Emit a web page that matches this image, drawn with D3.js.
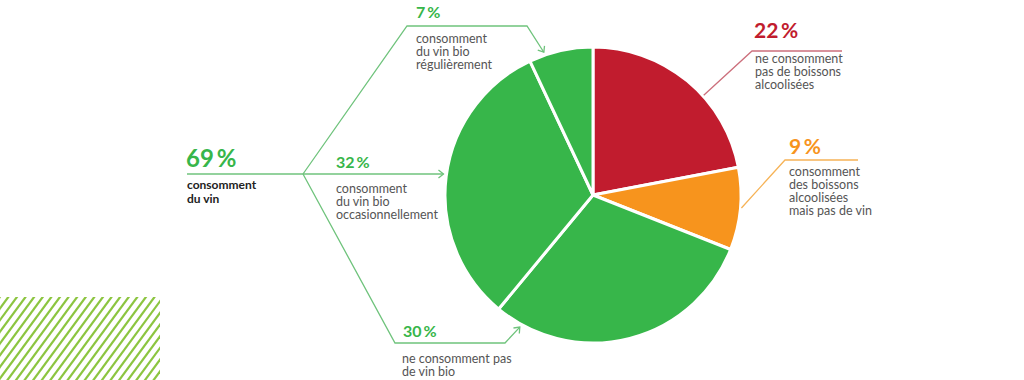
<!DOCTYPE html>
<html>
<head>
<meta charset="utf-8">
<style>
  body { margin: 0; background: #fff; }
  text { font-family: Lato, "Open Sans", sans-serif; }
</style>
</head>
<body>
<script src="https://cdn.jsdelivr.net/npm/d3@7"></script>
<script>
// data
var sliceValues = [22, 9, 30, 32, 7];
var sliceGroups = ['none', 'alcohol', 'wine', 'wine', 'wine'];
var sliceTexts = [
    ['ne consomment', 'pas de boissons', 'alcoolisées'],
    ['consomment', 'des boissons', 'alcoolisées', 'mais pas de vin'],
    ['ne consomment pas', 'de vin bio'],
    ['consomment', 'du vin bio', 'occasionnellement'],
    ['consomment', 'du vin bio', 'régulièrement']
];
var wineTotal = 69;
var wineTexts = ['consomment', 'du vin'];

var svgWidth = 1024, svgHeight = 380;
var svg = d3.select('body').append('svg')
    .attr('width', svgWidth).attr('height', svgHeight);

var cx = 593, cy = 195, radius = 148;

var fillColor = d3.scaleOrdinal()
    .domain(['none', 'alcohol', 'wine'])
    .range(['#c11c2e', '#f7941d', '#37b64a']);
var lineColor = d3.scaleOrdinal()
    .domain(['none', 'alcohol', 'wine'])
    .range(['#cc6f7c', '#f6b357', '#6fc37c']);

// hatched corner bottom left
var hatch = svg.append('g');
svg.append('clipPath').attr('id', 'hatchClip')
    .append('rect').attr('x', 0).attr('y', 297).attr('width', 160).attr('height', 83);
hatch.attr('clip-path', 'url(#hatchClip)')
    .selectAll('line')
    .data(d3.range(-80, 170, 8.6))
    .enter().append('line')
    .attr('x1', function (d) { return d; })
    .attr('y1', 382)
    .attr('x2', function (d) { return d + 64; })
    .attr('y2', 295)
    .attr('stroke', '#8cc540')
    .attr('stroke-width', 2.2);

// pie
var pie = d3.pie().sort(null).value(function (d) { return d; });
var arcs = pie(sliceValues);
var arc = d3.arc().innerRadius(0).outerRadius(radius);

var pieGroup = svg.append('g')
    .attr('transform', 'translate(' + cx + ',' + cy + ')');
pieGroup.selectAll('path')
    .data(arcs)
    .enter().append('path')
    .attr('d', arc)
    .attr('fill', function (d, i) { return fillColor(sliceGroups[i]); })
    .attr('stroke', '#fff')
    .attr('stroke-width', 3)
    .attr('stroke-linejoin', 'round');

// arrow markers
var defs = svg.append('defs');
['wine'].forEach(function (g) {
    defs.append('marker')
        .attr('id', 'arrow-' + g)
        .attr('viewBox', '-6 -5 8 10')
        .attr('refX', 0).attr('refY', 0)
        .attr('markerWidth', 8).attr('markerHeight', 10)
        .attr('markerUnits', 'userSpaceOnUse')
        .attr('orient', 'auto')
        .append('path')
        .attr('d', 'M-5,-4L0,0L-5,4')
        .attr('fill', 'none')
        .attr('stroke', lineColor(g))
        .attr('stroke-width', 1.3);
});

function edgePoint(deg, r) {
    var a = deg * Math.PI / 180;
    return [cx + r * Math.sin(a), cy - r * Math.cos(a)];
}

// callout layout
var callouts = [
    { tipDeg: 48, tipR: 149, path: [[842, 51], [752, 51]], px: 754, py: 38, size: 21, tx: 755, ty: 63, arrow: false },
    { tipDeg: 95, tipR: 149, path: [[858, 160], [785, 160]], px: 789, py: 154, size: 21, tx: 789, ty: 176, arrow: false },
    { tipDeg: 209, tipR: 151, path: [[303, 174], [395, 343], [505, 343]], px: 403, py: 337, size: 16, tx: 402, ty: 363, arrow: true },
    { tipDeg: 278, tipR: 151, path: [[187, 174]], px: 336, py: 168, size: 16, tx: 336, ty: 193, arrow: true },
    { tipDeg: 341, tipR: 151, path: [[303, 174], [407, 26], [527, 26]], px: 416, py: 18, size: 16, tx: 416, ty: 43, arrow: true }
];

var lineGen = d3.line();
callouts.forEach(function (c, i) {
    var grp = sliceGroups[i];
    var tip = edgePoint(arcs[i] ? c.tipDeg : 0, c.tipR);
    if (i === 3) tip[1] = 174;
    var pts = c.path.concat([tip]);
    var p = svg.append('path')
        .attr('d', lineGen(pts))
        .attr('fill', 'none')
        .attr('stroke', lineColor(grp))
        .attr('stroke-width', 1.3);
    if (c.arrow) p.attr('marker-end', 'url(#arrow-' + grp + ')');

    svg.append('text')
        .attr('x', c.px).attr('y', c.py)
        .attr('fill', fillColor(grp))
        .attr('font-size', c.size)
        .attr('font-weight', 700)
        .text(sliceValues[i] + '\u2009%');

    svg.append('text')
        .attr('fill', '#555')
        .attr('font-size', 12.5)
        .selectAll('tspan')
        .data(sliceTexts[i])
        .enter().append('tspan')
        .attr('x', c.tx)
        .attr('y', function (d, k) { return c.ty + k * 13; })
        .text(function (d) { return d; });
});

// 69 % total for wine drinkers
svg.append('text')
    .attr('x', 186).attr('y', 167)
    .attr('fill', fillColor('wine'))
    .attr('font-size', 24)
    .attr('font-weight', 700)
    .text(wineTotal + '\u2009%');

svg.append('text')
    .attr('fill', '#222')
    .attr('font-size', 12)
    .attr('font-weight', 700)
    .selectAll('tspan')
    .data(wineTexts)
    .enter().append('tspan')
    .attr('x', 187)
    .attr('y', function (d, k) { return 189 + k * 14; })
    .text(function (d) { return d; });
</script>
</body>
</html>
